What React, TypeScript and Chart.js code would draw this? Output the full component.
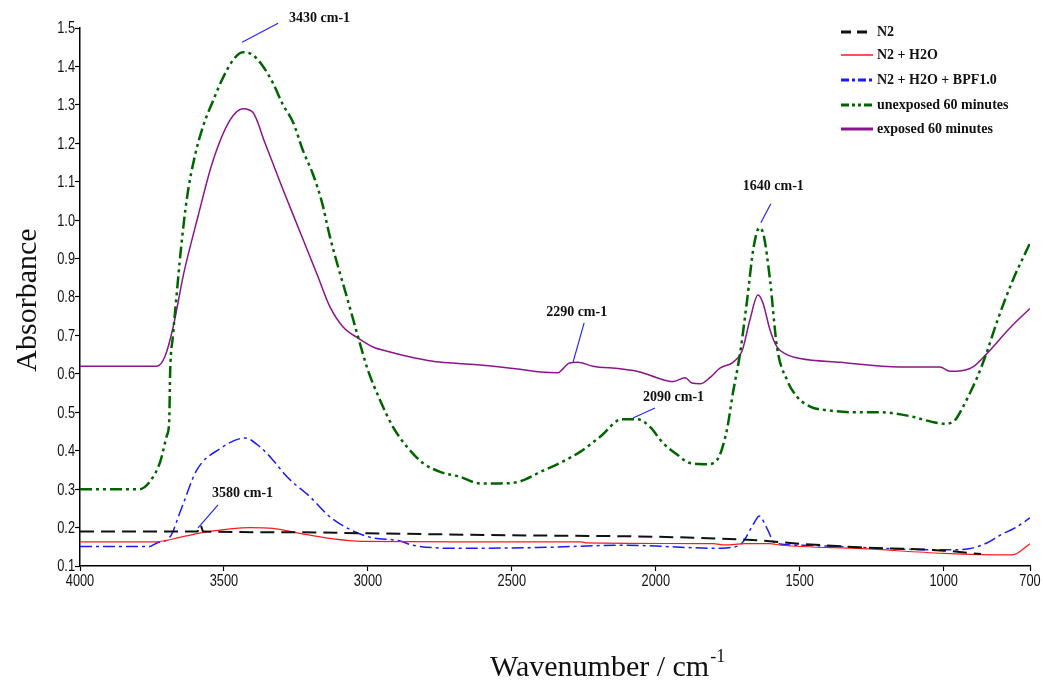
import { useEffect, useRef } from "react";
import { Chart, registerables } from "chart.js";
Chart.register(...registerables);

// ---- tick labels ----
const xTickValues = [4000, 3500, 3000, 2500, 2000, 1500, 1000, 700];
const yTickValues = [0.1, 0.2, 0.3, 0.4, 0.5, 0.6, 0.7, 0.8, 0.9, 1.0, 1.1, 1.2, 1.3, 1.4, 1.5];

// ---- series names ----
const seriesNames = ["N2", "N2 + H2O", "N2 + H2O + BPF1.0", "unexposed 60 minutes", "exposed 60 minutes"];

// ---- N2 ----
const n2Wn = [4000, 3620, 3592, 3582, 3572, 3300, 3000, 2500, 2000, 1650, 1500, 1300, 1000, 870];
const n2Abs = [0.19, 0.19, 0.19, 0.207, 0.19, 0.188, 0.185, 0.18, 0.176, 0.167, 0.158, 0.149, 0.14, 0.131];

// ---- N2 + H2O ----
const h2oWn = [4000, 3735, 3650, 3550, 3410, 3330, 3236, 3127, 3019, 2700, 2259, 2240, 1800, 1760, 1690, 1605, 1564, 1282, 1000, 761, 700];
const h2oAbs = [0.163, 0.163, 0.175, 0.19, 0.2, 0.198, 0.185, 0.171, 0.164, 0.163, 0.163, 0.16, 0.158, 0.155, 0.158, 0.158, 0.154, 0.145, 0.133, 0.129, 0.158];

// ---- N2 + H2O + BPF1.0 ----
const bpfWn = [4000, 3757, 3733, 3687, 3650, 3594, 3514, 3427, 3375, 3330, 3281, 3201, 3132, 3062, 2993, 2888, 2845, 2672, 2410, 2107, 1781, 1740, 1700, 1660, 1640, 1615, 1586, 1500, 1000, 913, 850, 804, 750, 700];
const bpfAbs = [0.151, 0.151, 0.16, 0.176, 0.245, 0.35, 0.405, 0.433, 0.41, 0.376, 0.332, 0.28, 0.228, 0.195, 0.175, 0.165, 0.154, 0.146, 0.148, 0.154, 0.146, 0.148, 0.16, 0.21, 0.23, 0.2, 0.16, 0.154, 0.142, 0.145, 0.16, 0.18, 0.2, 0.225];

// ---- unexposed 60 minutes ----
const unexpWn = [4000, 3792, 3757, 3722, 3698, 3690, 3687, 3677, 3665, 3650, 3628, 3600, 3570, 3538, 3510, 3465, 3434, 3400, 3364, 3330, 3295, 3260, 3225, 3191, 3159, 3132, 3104, 3073, 3034, 3000, 2958, 2913, 2864, 2809, 2749, 2680, 2611, 2540, 2472, 2400, 2333, 2263, 2194, 2117, 2065, 2020, 1975, 1926, 1881, 1822, 1787, 1753, 1732, 1707, 1683, 1660, 1640, 1625, 1603, 1579, 1544, 1509, 1464, 1400, 1300, 1221, 1117, 1040, 995, 960, 943, 884, 853, 815, 759, 700];
const unexpAbs = [0.3, 0.3, 0.32, 0.37, 0.44, 0.48, 0.6, 0.7, 0.8, 0.92, 1.06, 1.17, 1.25, 1.31, 1.36, 1.42, 1.437, 1.43, 1.4, 1.357, 1.3, 1.255, 1.18, 1.12, 1.045, 0.957, 0.88, 0.8, 0.696, 0.61, 0.532, 0.462, 0.41, 0.368, 0.345, 0.332, 0.315, 0.315, 0.32, 0.345, 0.368, 0.397, 0.436, 0.482, 0.482, 0.462, 0.42, 0.39, 0.368, 0.365, 0.376, 0.454, 0.55, 0.654, 0.79, 0.93, 0.98, 0.96, 0.844, 0.67, 0.584, 0.54, 0.515, 0.505, 0.5, 0.5, 0.49, 0.475, 0.47, 0.48, 0.5, 0.59, 0.65, 0.735, 0.845, 0.94];

// ---- exposed 60 minutes ----
const expWn = [4000, 3850, 3733, 3705, 3677, 3640, 3590, 3540, 3479, 3434, 3399, 3357, 3295, 3236, 3177, 3132, 3086, 3034, 2982, 2923, 2864, 2774, 2704, 2611, 2472, 2400, 2340, 2320, 2300, 2270, 2218, 2124, 2055, 1996, 1940, 1898, 1874, 1846, 1812, 1777, 1732, 1700, 1673, 1645, 1628, 1603, 1579, 1544, 1499, 1360, 1152, 1013, 978, 954, 898, 853, 769, 700];
const expAbs = [0.62, 0.62, 0.62, 0.645, 0.72, 0.86, 1.01, 1.15, 1.26, 1.29, 1.28, 1.2, 1.08, 0.97, 0.86, 0.775, 0.722, 0.693, 0.67, 0.657, 0.646, 0.633, 0.628, 0.623, 0.612, 0.605, 0.603, 0.615, 0.628, 0.63, 0.62, 0.613, 0.605, 0.59, 0.58, 0.59, 0.576, 0.574, 0.59, 0.615, 0.63, 0.66, 0.74, 0.805, 0.785, 0.714, 0.67, 0.65, 0.64, 0.63, 0.618, 0.618, 0.607, 0.607, 0.618, 0.65, 0.72, 0.77];

// ---- peak annotations ----
const annLabels = ["3430 cm-1", "3580 cm-1", "2290 cm-1", "2090 cm-1", "1640 cm-1"];
const annWn = [3437, 3590, 2287, 2079, 1635];
const annAbs = [1.463, 0.199, 0.631, 0.485, 0.993];

const colors = ["#111111", "#ff1a1a", "#1a1aff", "#006400", "#8b168b"];
const widths = [2, 1.2, 1.5, 2.5, 1.5];
const dashes: number[][] = [[14, 7], [], [12, 4, 3, 4], [12, 4, 3, 4, 3, 4], []];
const legendDashes: number[][] = [[10, 6], [], [8, 3, 3, 3], [8, 3, 3, 3, 3, 3], []];

const TICK_FONT = "16px 'Liberation Sans', Arial, sans-serif";
const SERIF = "'Liberation Serif', 'Times New Roman', serif";

function pts(wn: number[], ab: number[]) {
  return wn.map((w, i) => ({ x: w, y: ab[i] }));
}

// layout offsets for annotation leader lines / text (pixels relative to anchor)
const annLine = [[36, -19], [20, -23], [11, -39], [22, -10], [10, -19]];
const annText = [[47, -24], [14, -35], [-27, -50], [10, -21], [-18, -36]];
const legendRows = [32, 55, 80, 105, 129];

const overlay = {
  id: "overlay",
  afterDraw(chart: any) {
    const ctx = chart.ctx as CanvasRenderingContext2D;
    const xs = chart.scales.x;
    const ys = chart.scales.y;
    ctx.save();
    // tick labels (narrow face)
    ctx.fillStyle = "#111";
    ctx.font = TICK_FONT;
    yTickValues.forEach((v) => {
      const py = ys.getPixelForValue(v);
      ctx.save();
      ctx.translate(75, py);
      ctx.scale(0.8, 1);
      ctx.textAlign = "right";
      ctx.textBaseline = "middle";
      ctx.fillText(v.toFixed(1), 0, 1);
      ctx.restore();
    });
    xTickValues.forEach((v) => {
      const px = xs.getPixelForValue(v);
      ctx.save();
      ctx.translate(px, 574);
      ctx.scale(0.8, 1);
      ctx.textAlign = "center";
      ctx.textBaseline = "top";
      ctx.fillText(String(v), 0, 0);
      ctx.restore();
    });
    // annotations
    annLabels.forEach((lab, i) => {
      const px = xs.getPixelForValue(annWn[i]);
      const py = ys.getPixelForValue(annAbs[i]);
      ctx.strokeStyle = "#2626ff";
      ctx.lineWidth = 1.2;
      ctx.setLineDash([]);
      ctx.beginPath();
      ctx.moveTo(px, py);
      ctx.lineTo(px + annLine[i][0], py + annLine[i][1]);
      ctx.stroke();
      ctx.font = `bold 14px ${SERIF}`;
      ctx.fillStyle = "#111";
      ctx.textAlign = "left";
      ctx.textBaseline = "middle";
      ctx.fillText(lab, px + annText[i][0], py + annText[i][1]);
    });
    // legend
    seriesNames.forEach((name, i) => {
      const y = legendRows[i];
      ctx.strokeStyle = colors[i];
      ctx.lineWidth = i === 1 ? 1.5 : 3;
      ctx.setLineDash(legendDashes[i]);
      ctx.beginPath();
      ctx.moveTo(841, y);
      ctx.lineTo(873, y);
      ctx.stroke();
      ctx.setLineDash([]);
      ctx.font = `bold 14px ${SERIF}`;
      ctx.fillStyle = "#111";
      ctx.textAlign = "left";
      ctx.textBaseline = "middle";
      ctx.fillText(name, 877, y);
    });
    // y title
    ctx.save();
    ctx.translate(28, 300);
    ctx.rotate(-Math.PI / 2);
    ctx.font = `30px ${SERIF}`;
    ctx.fillStyle = "#111";
    ctx.textAlign = "center";
    ctx.textBaseline = "middle";
    ctx.fillText("Absorbance", 0, 0);
    ctx.restore();
    // x title
    ctx.font = `30px ${SERIF}`;
    ctx.fillStyle = "#111";
    ctx.textAlign = "left";
    ctx.textBaseline = "alphabetic";
    const main = "Wavenumber / cm";
    ctx.fillText(main, 490, 676);
    const w = ctx.measureText(main).width;
    ctx.font = `18px ${SERIF}`;
    ctx.fillText("-1", 490 + w + 1, 662);
    ctx.restore();
  },
};

export default function App() {
  const ref = useRef<HTMLCanvasElement | null>(null);
  useEffect(() => {
    if (!ref.current) return;
    const data = [
      pts(n2Wn, n2Abs),
      pts(h2oWn, h2oAbs),
      pts(bpfWn, bpfAbs),
      pts(unexpWn, unexpAbs),
      pts(expWn, expAbs),
    ];
    const chart = new Chart(ref.current, {
      type: "line",
      data: {
        datasets: seriesNames.map((name, i) => ({
          label: name,
          data: data[i],
          borderColor: colors[i],
          borderWidth: widths[i],
          borderDash: dashes[i],
          pointRadius: 0,
          fill: false,
          cubicInterpolationMode: "monotone" as const,
        })),
      },
      options: {
        animation: false,
        responsive: false,
        devicePixelRatio: 1,
        layout: { padding: { top: 28, right: 13, left: 0, bottom: 0 } },
        plugins: { legend: { display: false }, tooltip: { enabled: false } },
        scales: {
          x: {
            type: "linear",
            min: 700,
            max: 4000,
            reverse: true,
            afterBuildTicks: (s: any) => {
              s.ticks = xTickValues.map((v) => ({ value: v }));
            },
            afterFit: (s: any) => {
              s.height = 118;
            },
            grid: { display: true, drawOnChartArea: false, drawTicks: true, tickLength: 5, color: "#000", tickWidth: 1.2 },
            border: { display: true, color: "#000", width: 1.5 },
            ticks: { display: false, autoSkip: false, maxRotation: 0 },
          },
          y: {
            type: "linear",
            min: 0.1,
            max: 1.5,
            afterBuildTicks: (s: any) => {
              s.ticks = yTickValues.map((v) => ({ value: v }));
            },
            afterFit: (s: any) => {
              s.width = 80;
            },
            grid: { display: true, drawOnChartArea: false, drawTicks: true, tickLength: 5, color: "#000", tickWidth: 1.2 },
            border: { display: true, color: "#000", width: 1.5 },
            ticks: { display: false, autoSkip: false },
          },
        },
      },
      plugins: [overlay],
    });
    return () => chart.destroy();
  }, []);
  return (
    <div style={{ position: "fixed", left: 0, top: 0, width: 1043, height: 684, background: "#fff" }}>
      <canvas ref={ref} width={1043} height={684} style={{ display: "block" }} />
    </div>
  );
}
